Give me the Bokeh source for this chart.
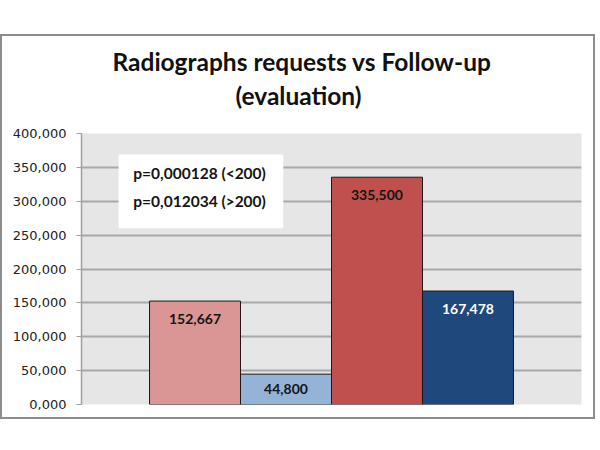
import numpy as np
from bokeh.plotting import figure
from bokeh.models import (ColumnDataSource, FactorRange, Range1d, LabelSet, Label,
                          BoxAnnotation, Title, CustomJSTickFormatter, FixedTicker)
from bokeh.core.properties import value
from bokeh.embed import file_html
from bokeh.resources import INLINE

# ---- data ----
series = ["Requests <200", "Follow-up <200", "Requests >200", "Follow-up >200"]
values = [152.667, 44.800, 335.500, 167.478]
colors = ["#D99694", "#95B3D7", "#C0504D", "#1F497D"]
label_colors = ["#141414", "#141414", "#141414", "#ffffff"]
y_ticks = [0, 50, 100, 150, 200, 250, 300, 350, 400]
title_line1 = "Radiographs requests vs Follow-up"
title_line2 = "(evaluation)"
pvalue_lines = ["p=0,000128 (<200)", "p=0,012034 (>200)"]

FONT = "Lato"

vals = np.array(values)
label_y = np.maximum(vals - 26.5, vals / 2)
labels = [f"{v:.3f}".replace(".", ",") for v in values]

source = ColumnDataSource(dict(series=series, values=values, colors=colors,
                               label_colors=label_colors, label_y=label_y,
                               labels=labels))

p = figure(width=595, height=385,
           x_range=FactorRange(*series, range_padding=0.7475, range_padding_units="absolute"),
           y_range=Range1d(0, 400),
           output_backend="svg", toolbar_location=None,
           min_border_left=79, min_border_right=16, min_border_top=97, min_border_bottom=17,
           background_fill_color="#e6e6e6", border_fill_color="white",
           styles={"margin-top": "34px", "border": "2px solid #8c8c8c"})

p.outline_line_color = None
p.xgrid.grid_line_color = None
p.ygrid.grid_line_color = "#a8a8a8"
p.ygrid.grid_line_width = 2
p.xaxis.visible = False

p.yaxis.ticker = FixedTicker(ticks=y_ticks)
p.yaxis.formatter = CustomJSTickFormatter(code="return tick.toFixed(3).replace('.', ',');")
p.yaxis.axis_line_color = "#a0a0a0"
p.yaxis.axis_line_width = 1.5
p.yaxis.major_tick_line_color = "#a0a0a0"
p.yaxis.major_tick_out = 5
p.yaxis.major_tick_in = 0
p.yaxis.minor_tick_line_color = None
p.yaxis.major_label_standoff = 10
p.yaxis.major_label_text_font = "DejaVu Sans"
p.yaxis.major_label_text_font_size = "13px"
p.yaxis.major_label_text_color = "#222222"

p.vbar(x="series", top="values", width=1.0, source=source,
       fill_color="colors", line_color="#1a1a1a", line_width=1)

p.add_layout(LabelSet(x="series", y="label_y", text="labels", source=source,
                      text_align="center", text_baseline="middle",
                      text_color="label_colors", text_font=value(FONT),
                      text_font_style="bold", text_font_size="14px"))

# p-value box
p.add_layout(BoxAnnotation(left=-0.34, right=1.47, bottom=260, top=369,
                           fill_color="white", fill_alpha=1.0, line_color=None))
for txt, yy in zip(pvalue_lines, [341, 300]):
    p.add_layout(Label(x=0.55, y=yy, text=txt, text_align="center", text_baseline="middle",
                       text_font=FONT, text_font_style="bold", text_font_size="15.5px",
                       text_color="#141414"))

# titles: spacer (closest to plot), second line, then main title outermost
# (left-aligned with offsets so that they are centred on the whole chart, not the plot area)
title_style = dict(align="left", text_font=FONT, text_font_style="bold",
                   text_font_size="24.5px", text_color="#111111")
p.add_layout(Title(text=" ", align="center", text_font_size="10px", standoff=8), "above")
p.add_layout(Title(text=title_line2, standoff=6, offset=154, **title_style), "above")
p.title.text = title_line1
p.title.align = "left"
p.title.offset = 31
p.title.text_font = FONT
p.title.text_font_style = "bold"
p.title.text_font_size = "24.5px"
p.title.text_color = "#111111"
p.title.standoff = 0

open("out.html", "w").write(file_html(p, INLINE))
